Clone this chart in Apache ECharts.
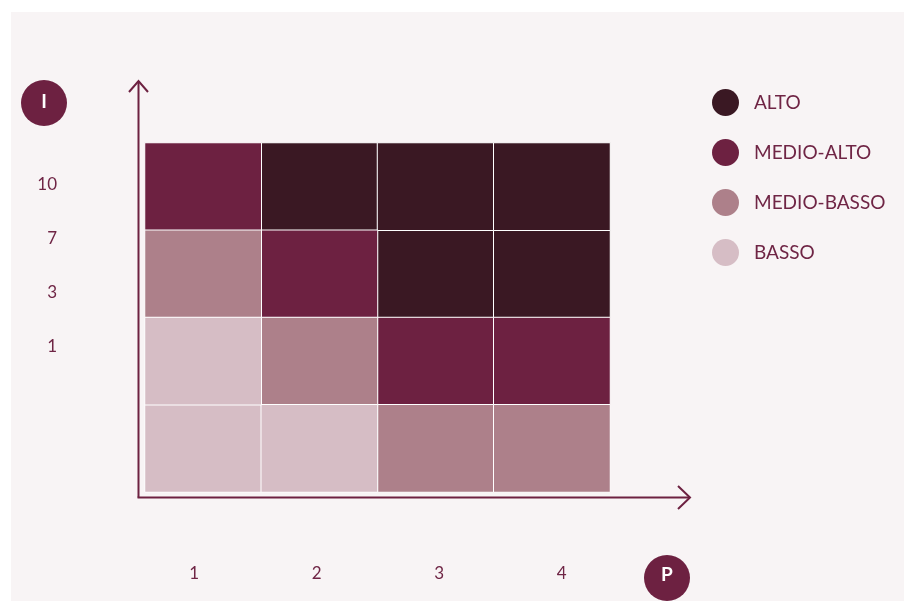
<!DOCTYPE html>
<html>
<head>
<meta charset="utf-8">
<script src="https://cdn.jsdelivr.net/npm/echarts@6/dist/echarts.min.js"></script>
<style>
html,body{margin:0;padding:0;background:#ffffff;}
#chart{width:904px;height:601px;}
</style>
</head>
<body>
<div id="chart"></div>
<script>
// Data
const pCategories = ['1', '2', '3', '4'];          // columns (P)
const iCategories = ['r1', 'r2', 'r3', 'r4'];      // rows bottom->top (I)
const pTickLabels = ['1', '2', '3', '4'];
const iTickLabels = ['1', '3', '7', '10'];          // bottom -> top
const levelNames = ['ALTO', 'MEDIO-ALTO', 'MEDIO-BASSO', 'BASSO'];
const levelColors = ['#3a1823', '#6d2141', '#ad808a', '#d6bdc5'];
// risk level for each cell: rows bottom->top, columns left->right (index into levelNames)
const riskMatrix = [
  [3, 3, 2, 2],
  [3, 2, 1, 1],
  [2, 1, 0, 0],
  [1, 0, 0, 0]
];

const textColor = '#6f2545';
const lineColor = '#6d2141';

const series = levelNames.map((name, li) => {
  const data = [];
  riskMatrix.forEach((row, r) => row.forEach((lvl, c) => {
    if (lvl === li) data.push([c, r, 1]);
  }));
  return {
    name: name,
    type: 'heatmap',
    xAxisIndex: 0,
    yAxisIndex: 0,
    data: data,
    itemStyle: { color: levelColors[li], borderColor: '#ffffff', borderWidth: 1 },
    emphasis: { disabled: true },
    label: { show: false }
  };
});

const chart = echarts.init(document.getElementById('chart'), null, { renderer: 'canvas' });
chart.setOption({
  backgroundColor: '#ffffff',
  animation: false,
  color: levelColors,
  textStyle: { fontFamily: 'Lato' },
  legend: {
    orient: 'vertical',
    left: 712,
    top: 89,
    padding: 0,
    itemWidth: 27,
    itemHeight: 27,
    itemGap: 23,
    icon: 'circle',
    selectedMode: false,
    data: levelNames,
    itemStyle: { borderWidth: 0 },
    textStyle: { color: textColor, fontSize: 19, fontFamily: 'Lato', padding: [0, 0, 0, 10] }
  },
  grid: [
    { left: 145, top: 143, width: 465, height: 349, containLabel: false },
    { left: 133, top: 158, width: 490, height: 215, containLabel: false }
  ],
  xAxis: [
    { type: 'category', gridIndex: 0, data: pCategories, show: false },
    {
      type: 'category', gridIndex: 1, data: pTickLabels,
      axisLine: { show: false }, axisTick: { show: false }, splitLine: { show: false },
      axisLabel: { color: textColor, fontSize: 17, fontFamily: 'Lato', margin: 192 }
    }
  ],
  yAxis: [
    { type: 'category', gridIndex: 0, data: iCategories, show: false },
    {
      type: 'category', gridIndex: 1, data: iTickLabels,
      axisLine: { show: false }, axisTick: { show: false }, splitLine: { show: false },
      axisLabel: { color: textColor, fontSize: 17, fontFamily: 'Lato', margin: 76 }
    }
  ],
  series: series,
  graphic: [
    { type: 'rect', z: -10, silent: true, shape: { x: 11, y: 12, width: 893, height: 589 }, style: { fill: '#f8f4f5' } },
    { type: 'polyline', silent: true, shape: { points: [[138.5, 497.5], [138.5, 81]] }, style: { stroke: lineColor, lineWidth: 2, fill: null } },
    { type: 'polyline', silent: true, shape: { points: [[129, 92], [138.5, 81], [148, 92]] }, style: { stroke: lineColor, lineWidth: 2, fill: null } },
    { type: 'polyline', silent: true, shape: { points: [[137.5, 497.5], [690, 497.5]] }, style: { stroke: lineColor, lineWidth: 2, fill: null } },
    { type: 'polyline', silent: true, shape: { points: [[678, 486], [690, 497.5], [678, 509]] }, style: { stroke: lineColor, lineWidth: 2, fill: null } },
    { type: 'circle', silent: true, shape: { cx: 44, cy: 103, r: 23 }, style: { fill: lineColor } },
    { type: 'text', silent: true, x: 44, y: 102, style: { text: 'I', fill: '#ffffff', font: 'bold 19px Lato', align: 'center', verticalAlign: 'middle' } },
    { type: 'circle', silent: true, shape: { cx: 667, cy: 578, r: 23 }, style: { fill: lineColor } },
    { type: 'text', silent: true, x: 667, y: 575, style: { text: 'P', fill: '#ffffff', font: 'bold 19px Lato', align: 'center', verticalAlign: 'middle' } }
  ]
});
</script>
</body>
</html>
